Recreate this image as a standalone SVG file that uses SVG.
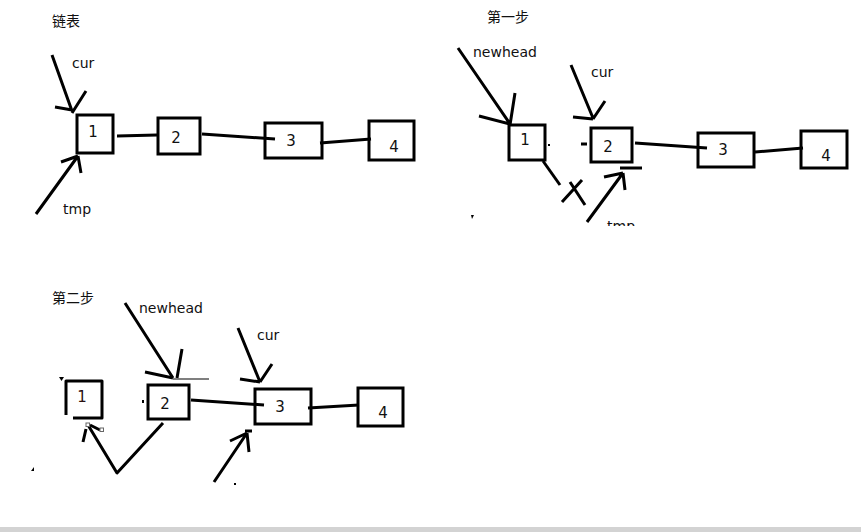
<svg xmlns="http://www.w3.org/2000/svg" width="861" height="532" viewBox="0 0 861 532">
<style>
.box{fill:#fff;stroke:#000;stroke-width:3}
.ln{stroke:#000;stroke-width:3;fill:none;stroke-linecap:butt;stroke-linejoin:round}
.thin{stroke:#000;stroke-width:1.2;fill:none}
.t{font-family:"DejaVu Sans","Noto Sans",sans-serif;font-size:14px;fill:#111}
.d{font-family:"DejaVu Sans","Noto Sans",sans-serif;font-size:15px;fill:#111;text-anchor:middle}
.c{font-family:"Noto Sans CJK SC","Noto Sans",sans-serif;font-size:14px;fill:#111}
</style>
<defs><clipPath id="clipTop"><rect x="0" y="0" width="861" height="226"/></clipPath></defs>
<rect width="861" height="532" fill="#fff"/>
<!-- titles -->
<text class="c" x="52" y="26">链表</text>
<text class="c" x="487" y="22">第一步</text>
<text class="c" x="52" y="303">第二步</text>
<!-- Section 1 nodes -->
<g id="s0n1"><rect class="box" x="77" y="115" width="36" height="38"/><text class="d" x="93" y="137">1</text></g>
<g id="s0n2"><rect class="box" x="158" y="118" width="42" height="36"/><text class="d" x="176" y="143">2</text></g>
<g id="s0n3"><rect class="box" x="265" y="123" width="57" height="35"/><text class="d" x="291" y="146">3</text></g>
<g id="s0n4"><rect class="box" x="369" y="121" width="45" height="39"/><text class="d" x="394" y="152">4</text></g>
<g id="s0cur"><text class="t" x="72" y="68">cur</text></g>
<g id="s0tmp"><text class="t" x="63" y="214">tmp</text></g>
<!-- Section 2 nodes -->
<g id="s1n1"><rect class="box" x="509" y="125" width="36" height="35"/><text class="d" x="525" y="145">1</text></g>
<g id="s1n2"><rect class="box" x="591" y="128" width="41" height="34"/><text class="d" x="608" y="152">2</text></g>
<g id="s1n3"><rect class="box" x="698" y="133" width="56" height="34"/><text class="d" x="723" y="155">3</text></g>
<g id="s1n4"><rect class="box" x="801" y="131" width="46" height="37"/><text class="d" x="826" y="161">4</text></g>
<g id="s1newhead"><text class="t" x="473" y="57">newhead</text></g>
<g id="s1cur"><text class="t" x="591" y="77">cur</text></g>
<g id="s1tmp" clip-path="url(#clipTop)"><text class="t" x="607" y="231">tmp</text></g>
<!-- Section 3 nodes -->
<g id="s2n1"><polyline class="ln" points="66,415 66,381 102,381 102,418 73,418"/><path d="M59,377 L64,377 L61.5,381 Z" fill="#000"/><text class="d" x="82" y="402" style="fill:#2a1010">1</text></g>
<g id="s2n2"><rect class="box" x="148" y="385" width="41" height="34"/><text class="d" x="165" y="409">2</text></g>
<g id="s2n3"><rect class="box" x="255" y="389" width="56" height="35"/><text class="d" x="280" y="412">3</text></g>
<g id="s2n4"><rect class="box" x="358" y="388" width="45" height="38"/><text class="d" x="383" y="418">4</text></g>
<g id="s2newhead"><text class="t" x="139" y="313">newhead</text></g>
<g id="s2cur"><text class="t" x="257" y="340">cur</text></g>
<!-- connectors -->
<g id="connectors">
  <!-- section 1 -->
  <path class="ln" d="M117,136 L157,135"/>
  <path class="ln" d="M202,134 L275,139"/>
  <path class="ln" d="M320,143 L371,139"/>
  <path class="ln" d="M52,55 L72,111 M55,107 L72,110 M86,91 L72,113"/>
  <path class="ln" d="M36,214 L78,156 M61,162 L78,156 M81,173 L78,156"/>
  <!-- section 2 -->
  <path class="ln" d="M458,48 L510,124 M479,116 L510,124 M515,93 L510,125"/>
  <path class="ln" d="M571,65 L593,118 M573,117 L593,119 M605,101 L593,119"/>
  <path class="ln" d="M587,222 L623,173 M604,177 L623,173 M625,190 L623,173"/>
  <path class="ln" d="M620,168 L642,168"/>
  <path class="ln" d="M543,161 L560,185"/>
  <path class="ln" d="M562,202 L582,180 M570,182 L585,205"/>
  <path class="ln" d="M581,144 L587,144"/>
  <path class="ln" d="M635,143 L707,148"/>
  <path class="ln" d="M755,152 L803,148"/>
  <rect x="548" y="144" width="2" height="2" fill="#000"/>
  <path d="M471,215 L474,215 L472,219 Z" fill="#000"/>
  <!-- section 3 -->
  <path class="ln" d="M125,303 L173,378 M145,372 L173,378 M182,349 L177,378"/>
  <path class="thin" d="M173,379 L209,379"/>
  <path class="ln" d="M238,328 L260,382 M240,379 L260,382 M272,364 L260,382"/>
  <path class="ln" d="M191,400 L264,405"/>
  <path class="ln" d="M308,408 L359,405"/>
  <rect x="142" y="400" width="2" height="3" fill="#000"/>
  <path class="ln" d="M163,423 L117,473 L88,425"/>
  <path class="ln" d="M83,442 L86,429 M90,425 L100,430"/>
  <rect x="86" y="423" width="3.5" height="3.5" fill="#fff" stroke="#666" stroke-width="1"/>
  <rect x="100" y="428" width="3.5" height="3.5" fill="#fff" stroke="#666" stroke-width="1"/>
  <path class="ln" d="M214,482 L247,433 M230,441 L247,433 M249,452 L247,433"/>
  <path class="ln" d="M245,431 L252,431"/>
  <rect x="234" y="483" width="2" height="2" fill="#000"/>
  <path d="M31,471 L34,467 L34,471 Z" fill="#000"/>
</g>
<rect x="0" y="527" width="861" height="5" fill="#d3d3d3"/>
</svg>
